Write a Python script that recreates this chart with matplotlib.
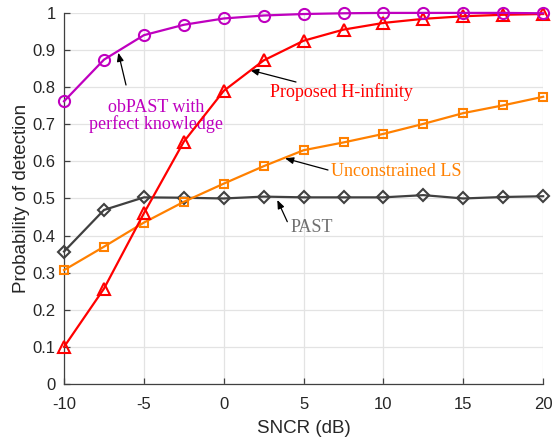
import numpy as np
import matplotlib
matplotlib.use("Agg")
import matplotlib.pyplot as plt

sncr_db = [-10, -7.5, -5, -2.5, 0, 2.5, 5, 7.5, 10, 12.5, 15, 17.5, 20]

pd_obpast = [0.762, 0.874, 0.940, 0.968, 0.985, 0.993, 0.997, 0.999, 1.000, 1.000, 1.000, 1.000, 0.999]
pd_hinf = [0.100, 0.257, 0.460, 0.653, 0.790, 0.872, 0.925, 0.955, 0.973, 0.984, 0.991, 0.995, 0.997]
pd_ls = [0.307, 0.370, 0.435, 0.491, 0.540, 0.587, 0.630, 0.651, 0.674, 0.701, 0.730, 0.751, 0.774]
pd_past = [0.357, 0.469, 0.503, 0.502, 0.500, 0.505, 0.503, 0.503, 0.503, 0.509, 0.500, 0.504, 0.506]

x_ticks = [-10, -5, 0, 5, 10, 15, 20]
y_ticks = [0, 0.1, 0.2, 0.3, 0.4, 0.5, 0.6, 0.7, 0.8, 0.9, 1]

c_ob = "#BF00BF"
c_hinf = "#FF0000"
c_ls = "#FF8000"
c_past = "#404040"
ax_col = "#262626"

plt.rcParams["font.family"] = ["Liberation Sans", "DejaVu Sans"]

fig = plt.figure(figsize=(5.52, 4.45), dpi=100)
ax = fig.add_axes([0.116, 0.137, 0.868, 0.834])

ax.plot(sncr_db, pd_past, color=c_past, lw=1.6, marker="D", ms=6.5,
        mfc="none", mew=1.5, zorder=3, clip_on=False)
ax.plot(sncr_db, pd_ls, color=c_ls, lw=1.6, marker="s", ms=5.5,
        mfc="none", mew=1.5, zorder=3, clip_on=False)
ax.plot(sncr_db, pd_hinf, color=c_hinf, lw=1.6, marker="^", ms=8.5,
        mfc="none", mew=1.5, zorder=4, clip_on=False)
ax.plot(sncr_db, pd_obpast, color=c_ob, lw=1.6, marker="o", ms=8,
        mfc="none", mew=1.5, zorder=5, clip_on=False)

ax.set_xlim(-10, 20)
ax.set_ylim(0, 1)
ax.set_xticks(x_ticks)
ax.set_xticklabels([str(v) for v in x_ticks])
ax.set_yticks(y_ticks)
ax.set_yticklabels(["0"] + [f"{v:.1f}" for v in y_ticks[1:-1]] + ["1"])
ax.grid(True, color="#E3E3E3", lw=0.9)
ax.set_axisbelow(True)

for side in ("top", "right"):
    ax.spines[side].set_visible(False)
for side in ("left", "bottom"):
    ax.spines[side].set_color("#404040")
    ax.spines[side].set_linewidth(0.9)
ax.tick_params(direction="in", length=4, width=0.9, colors="#404040",
               labelcolor=ax_col, labelsize=12, pad=6)
ax.tick_params(axis="x", pad=9)

ax.set_xlabel("SNCR (dB)", fontsize=13.5, color=ax_col, labelpad=6)
ax.set_ylabel("Probability of detection", fontsize=13.5, color=ax_col, labelpad=2)

serif = ["Liberation Serif", "DejaVu Serif"]
arrow = dict(arrowstyle="-|>,head_length=0.5,head_width=0.2", color="black",
             lw=0.9, shrinkA=0, shrinkB=0)


def px_to_data(px, py):
    # figure pixel (from top-left) -> data coordinates
    inv = ax.transData.inverted()
    return tuple(inv.transform((px, 445 - py)))


fig.canvas.draw()

ax.annotate("", xy=px_to_data(118.3, 52.7), xytext=px_to_data(126, 85),
            arrowprops=arrow)
ax.text(*px_to_data(156, 116), "obPAST with\nperfect knowledge", color=c_ob,
        family=serif, fontsize=13, ha="center", va="center", linespacing=1.0)

ax.annotate("", xy=px_to_data(250, 70), xytext=px_to_data(296, 82),
            arrowprops=arrow)
ax.text(*px_to_data(270, 92), "Proposed H-infinity", color=c_hinf,
        family=serif, fontsize=13, ha="left", va="center")

ax.annotate("", xy=px_to_data(285, 158.3), xytext=px_to_data(328, 170),
            arrowprops=arrow)
ax.text(*px_to_data(331, 171), "Unconstrained LS", color=c_ls,
        family=serif, fontsize=13, ha="left", va="center")

ax.annotate("", xy=px_to_data(277.3, 200), xytext=px_to_data(287.3, 221.7),
            arrowprops=arrow)
ax.text(*px_to_data(291, 227.5), "PAST", color="#707070",
        family=serif, fontsize=13, ha="left", va="center")

fig.savefig("out.png", dpi=100)
